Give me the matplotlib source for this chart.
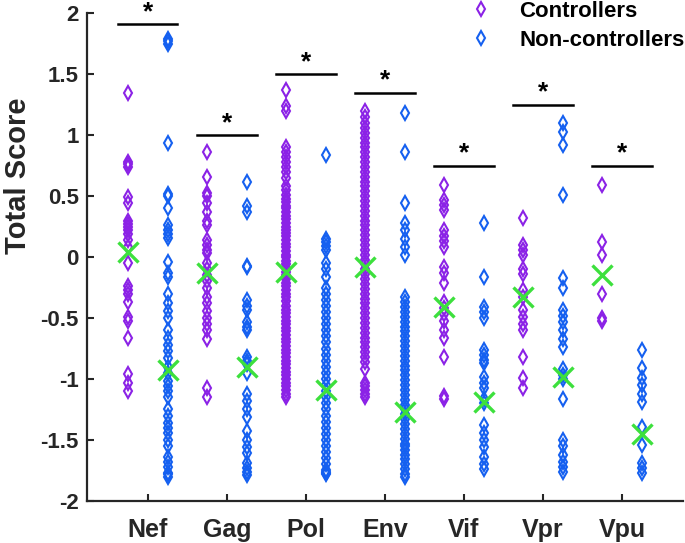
import matplotlib
matplotlib.use("Agg")
import matplotlib.pyplot as plt

genes = ["Nef", "Gag", "Pol", "Env", "Vif", "Vpr", "Vpu"]

nef_ctrl = [1.35, 0.78, 0.76, 0.74, 0.49, 0.44, 0.30, 0.27, 0.25, 0.22, 0.19, 0.14, 0.08,
            -0.05, -0.24, -0.27, -0.30, -0.37, -0.49, -0.52, -0.66, -0.96, -1.03, -1.10]
nef_non = [1.79, 1.77, 1.75, 0.94, 0.52, 0.50, 0.40, 0.26, 0.22, 0.19, 0.16, -0.04, -0.13,
           -0.16, -0.30, -0.38, -0.44, -0.50, -0.60, -0.66, -0.72, -0.77, -0.83, -0.90,
           -0.95, -1.02, -1.06, -1.10, -1.15, -1.25, -1.30, -1.36, -1.40, -1.44, -1.50,
           -1.55, -1.64, -1.68, -1.72, -1.77, -1.80, -1.78]
gag_ctrl = [0.86, 0.66, 0.53, 0.50, 0.44, 0.37, 0.30, 0.26, 0.14, 0.10, 0.06, 0.03, -0.05,
            -0.10, -0.15, -0.20, -0.25, -0.33, -0.38, -0.44, -0.50, -0.55, -0.60, -0.67,
            -1.07, -1.15]
gag_non = [0.62, 0.42, 0.37, -0.08, -0.07, -0.35, -0.40, -0.43, -0.53, -0.57, -0.60, -0.82,
           -0.85, -0.88, -0.95, -1.12, -1.18, -1.25, -1.31, -1.43, -1.50, -1.56, -1.61,
           -1.69, -1.73, -1.76, -1.79]
pol_ctrl = [1.37, 1.24, 1.20, 0.90, 0.86, 0.82, 0.78, 0.74, 0.70, 0.65, 0.58, 0.55, 0.51,
            0.48, 0.45, 0.42, 0.40, 0.37, 0.34, 0.31, 0.28, 0.25, 0.22, 0.20, 0.17, 0.14,
            0.11, 0.08, 0.05, 0.02, 0.00, -0.03, -0.06, -0.09, -0.12, -0.15, -0.18, -0.21,
            -0.24, -0.27, -0.30, -0.33, -0.36, -0.40, -0.43, -0.46, -0.49, -0.52, -0.55,
            -0.58, -0.61, -0.64, -0.67, -0.70, -0.73, -0.76, -0.79, -0.82, -0.85, -0.88,
            -0.91, -0.94, -0.97, -1.00, -1.03, -1.06, -1.09, -1.12, -1.15]
pol_non = [0.84, 0.15, 0.12, 0.09, 0.06, -0.05, -0.10, -0.16, -0.25, -0.30, -0.35, -0.40,
           -0.45, -0.50, -0.55, -0.60, -0.65, -0.70, -0.75, -0.80, -0.85, -0.90, -0.95,
           -1.00, -1.05, -1.10, -1.15, -1.20, -1.25, -1.30, -1.35, -1.40, -1.45, -1.50,
           -1.55, -1.60, -1.65, -1.70, -1.75, -1.77, -1.78, -1.76]
env_ctrl = [1.20, 1.15, 1.10, 1.06, 1.02, 0.98, 0.94, 0.90, 0.86, 0.82, 0.78, 0.74, 0.70,
            0.66, 0.62, 0.58, 0.54, 0.50, 0.46, 0.42, 0.38, 0.34, 0.30, 0.26, 0.22, 0.18,
            0.14, 0.10, 0.06, 0.02, -0.02, -0.06, -0.10, -0.14, -0.18, -0.22, -0.26, -0.30,
            -0.34, -0.38, -0.42, -0.46, -0.50, -0.54, -0.58, -0.62, -0.66, -0.70, -0.74,
            -0.78, -0.82, -0.86, -0.92, -1.03, -1.06, -1.09, -1.12, -1.15]
env_non = [1.18, 0.86, 0.44, 0.28, 0.22, 0.15, 0.08, 0.02, -0.33, -0.37, -0.41, -0.45,
           -0.49, -0.53, -0.57, -0.61, -0.65, -0.69, -0.73, -0.77, -0.81, -0.85, -0.89,
           -0.93, -0.97, -1.01, -1.05, -1.09, -1.13, -1.17, -1.21, -1.25, -1.29, -1.33,
           -1.37, -1.41, -1.45, -1.49, -1.53, -1.55, -1.58, -1.62, -1.66, -1.70, -1.74,
           -1.78, -1.80]
vif_ctrl = [0.59, 0.47, 0.43, 0.39, 0.22, 0.17, 0.13, 0.08, -0.08, -0.13, -0.21, -0.37,
            -0.42, -0.47, -0.52, -0.60, -0.66, -0.82, -1.14, -1.16]
vif_non = [0.28, -0.16, -0.41, -0.45, -0.50, -0.76, -0.80, -0.84, -0.87, -0.98, -1.03,
           -1.07, -1.16, -1.20, -1.38, -1.44, -1.50, -1.56, -1.64, -1.70, -1.74]
vpr_ctrl = [0.32, 0.10, 0.06, 0.02, -0.10, -0.14, -0.27, -0.33, -0.43, -0.49, -0.55, -0.60,
            -0.82, -0.99, -1.07]
vpr_non = [1.10, 1.03, 0.92, 0.51, -0.17, -0.25, -0.43, -0.48, -0.53, -0.60, -0.67, -0.74,
           -0.92, -0.97, -1.00, -1.16, -1.50, -1.55, -1.62, -1.68, -1.72, -1.76]
vpu_ctrl = [0.59, 0.12, 0.02, -0.30, -0.50, -0.52]
vpu_non = [-0.76, -0.91, -0.99, -1.05, -1.12, -1.19, -1.39, -1.54, -1.69, -1.73, -1.77]

ctrl = [nef_ctrl, gag_ctrl, pol_ctrl, env_ctrl, vif_ctrl, vpr_ctrl, vpu_ctrl]
non = [nef_non, gag_non, pol_non, env_non, vif_non, vpr_non, vpu_non]
mean_ctrl = [0.04, -0.13, -0.12, -0.08, -0.41, -0.33, -0.15]
mean_non = [-0.93, -0.90, -1.09, -1.27, -1.19, -0.98, -1.45]
sig_y = [1.91, 1.0, 1.5, 1.35, 0.75, 1.25, 0.75]

purple = '#8B22E6'
blue = '#1560F0'
green = '#3DE03D'
dark = '#262626'

fig = plt.figure(figsize=(6.85, 5.43), dpi=100)
ax = fig.add_axes([0.127, 0.0775, 0.870, 0.898])

for i in range(len(genes)):
    xc = i + 1 - 0.25
    xn = i + 1 + 0.25
    ax.plot([xc] * len(ctrl[i]), ctrl[i], 'd', mfc='none', mec=purple, ms=7.5, mew=1.5,
            label="Controllers" if i == 0 else None)
    ax.plot([xn] * len(non[i]), non[i], 'd', mfc='none', mec=blue, ms=7.5, mew=1.5,
            label="Non-controllers" if i == 0 else None)
    ax.plot([xc], [mean_ctrl[i]], 'x', color=green, ms=15, mew=2.4, zorder=5)
    ax.plot([xn], [mean_non[i]], 'x', color=green, ms=15, mew=2.4, zorder=5)
    ax.plot([i + 1 - 0.375, i + 1 + 0.375], [sig_y[i], sig_y[i]], '-', color='black', lw=1.8)
    ax.text(i + 1, sig_y[i] + 0.1, "*", ha='center', va='center', fontsize=19,
            fontweight='bold', color='black', family='Liberation Sans')

ax.set_xlim(0.23, 7.77)
ax.set_ylim(-2, 2)
ax.set_xticks(range(1, 8))
ax.set_xticklabels(genes)
yt = [-2, -1.5, -1, -0.5, 0, 0.5, 1, 1.5, 2]
ax.set_yticks(yt)
ax.set_yticklabels(["-2", "-1.5", "-1", "-0.5", "0", "0.5", "1", "1.5", "2"])
ax.tick_params(direction='in', length=5, width=1.5, color=dark, labelcolor=dark)
ax.tick_params(axis='y', labelsize=16, pad=6)
ax.tick_params(axis='x', labelsize=18, pad=12)
for lab in ax.get_xticklabels() + ax.get_yticklabels():
    lab.set_fontweight('bold')
    lab.set_family('Liberation Sans')
ax.spines['top'].set_visible(False)
ax.spines['right'].set_visible(False)
for s in ['left', 'bottom']:
    ax.spines[s].set_linewidth(1.6)
    ax.spines[s].set_color(dark)
ax.set_ylabel("Total Score", fontsize=21, fontweight='bold', family='Liberation Sans',
              color=dark)
ax.yaxis.set_label_coords(-0.093, 0.666)

leg = ax.legend(loc='upper right', bbox_to_anchor=(1.036, 1.066), frameon=False,
                prop={'family': 'Liberation Sans', 'weight': 'bold', 'size': 16},
                handlelength=1.4, handletextpad=1.0, labelspacing=0.35)

fig.savefig("out.png", dpi=100)
